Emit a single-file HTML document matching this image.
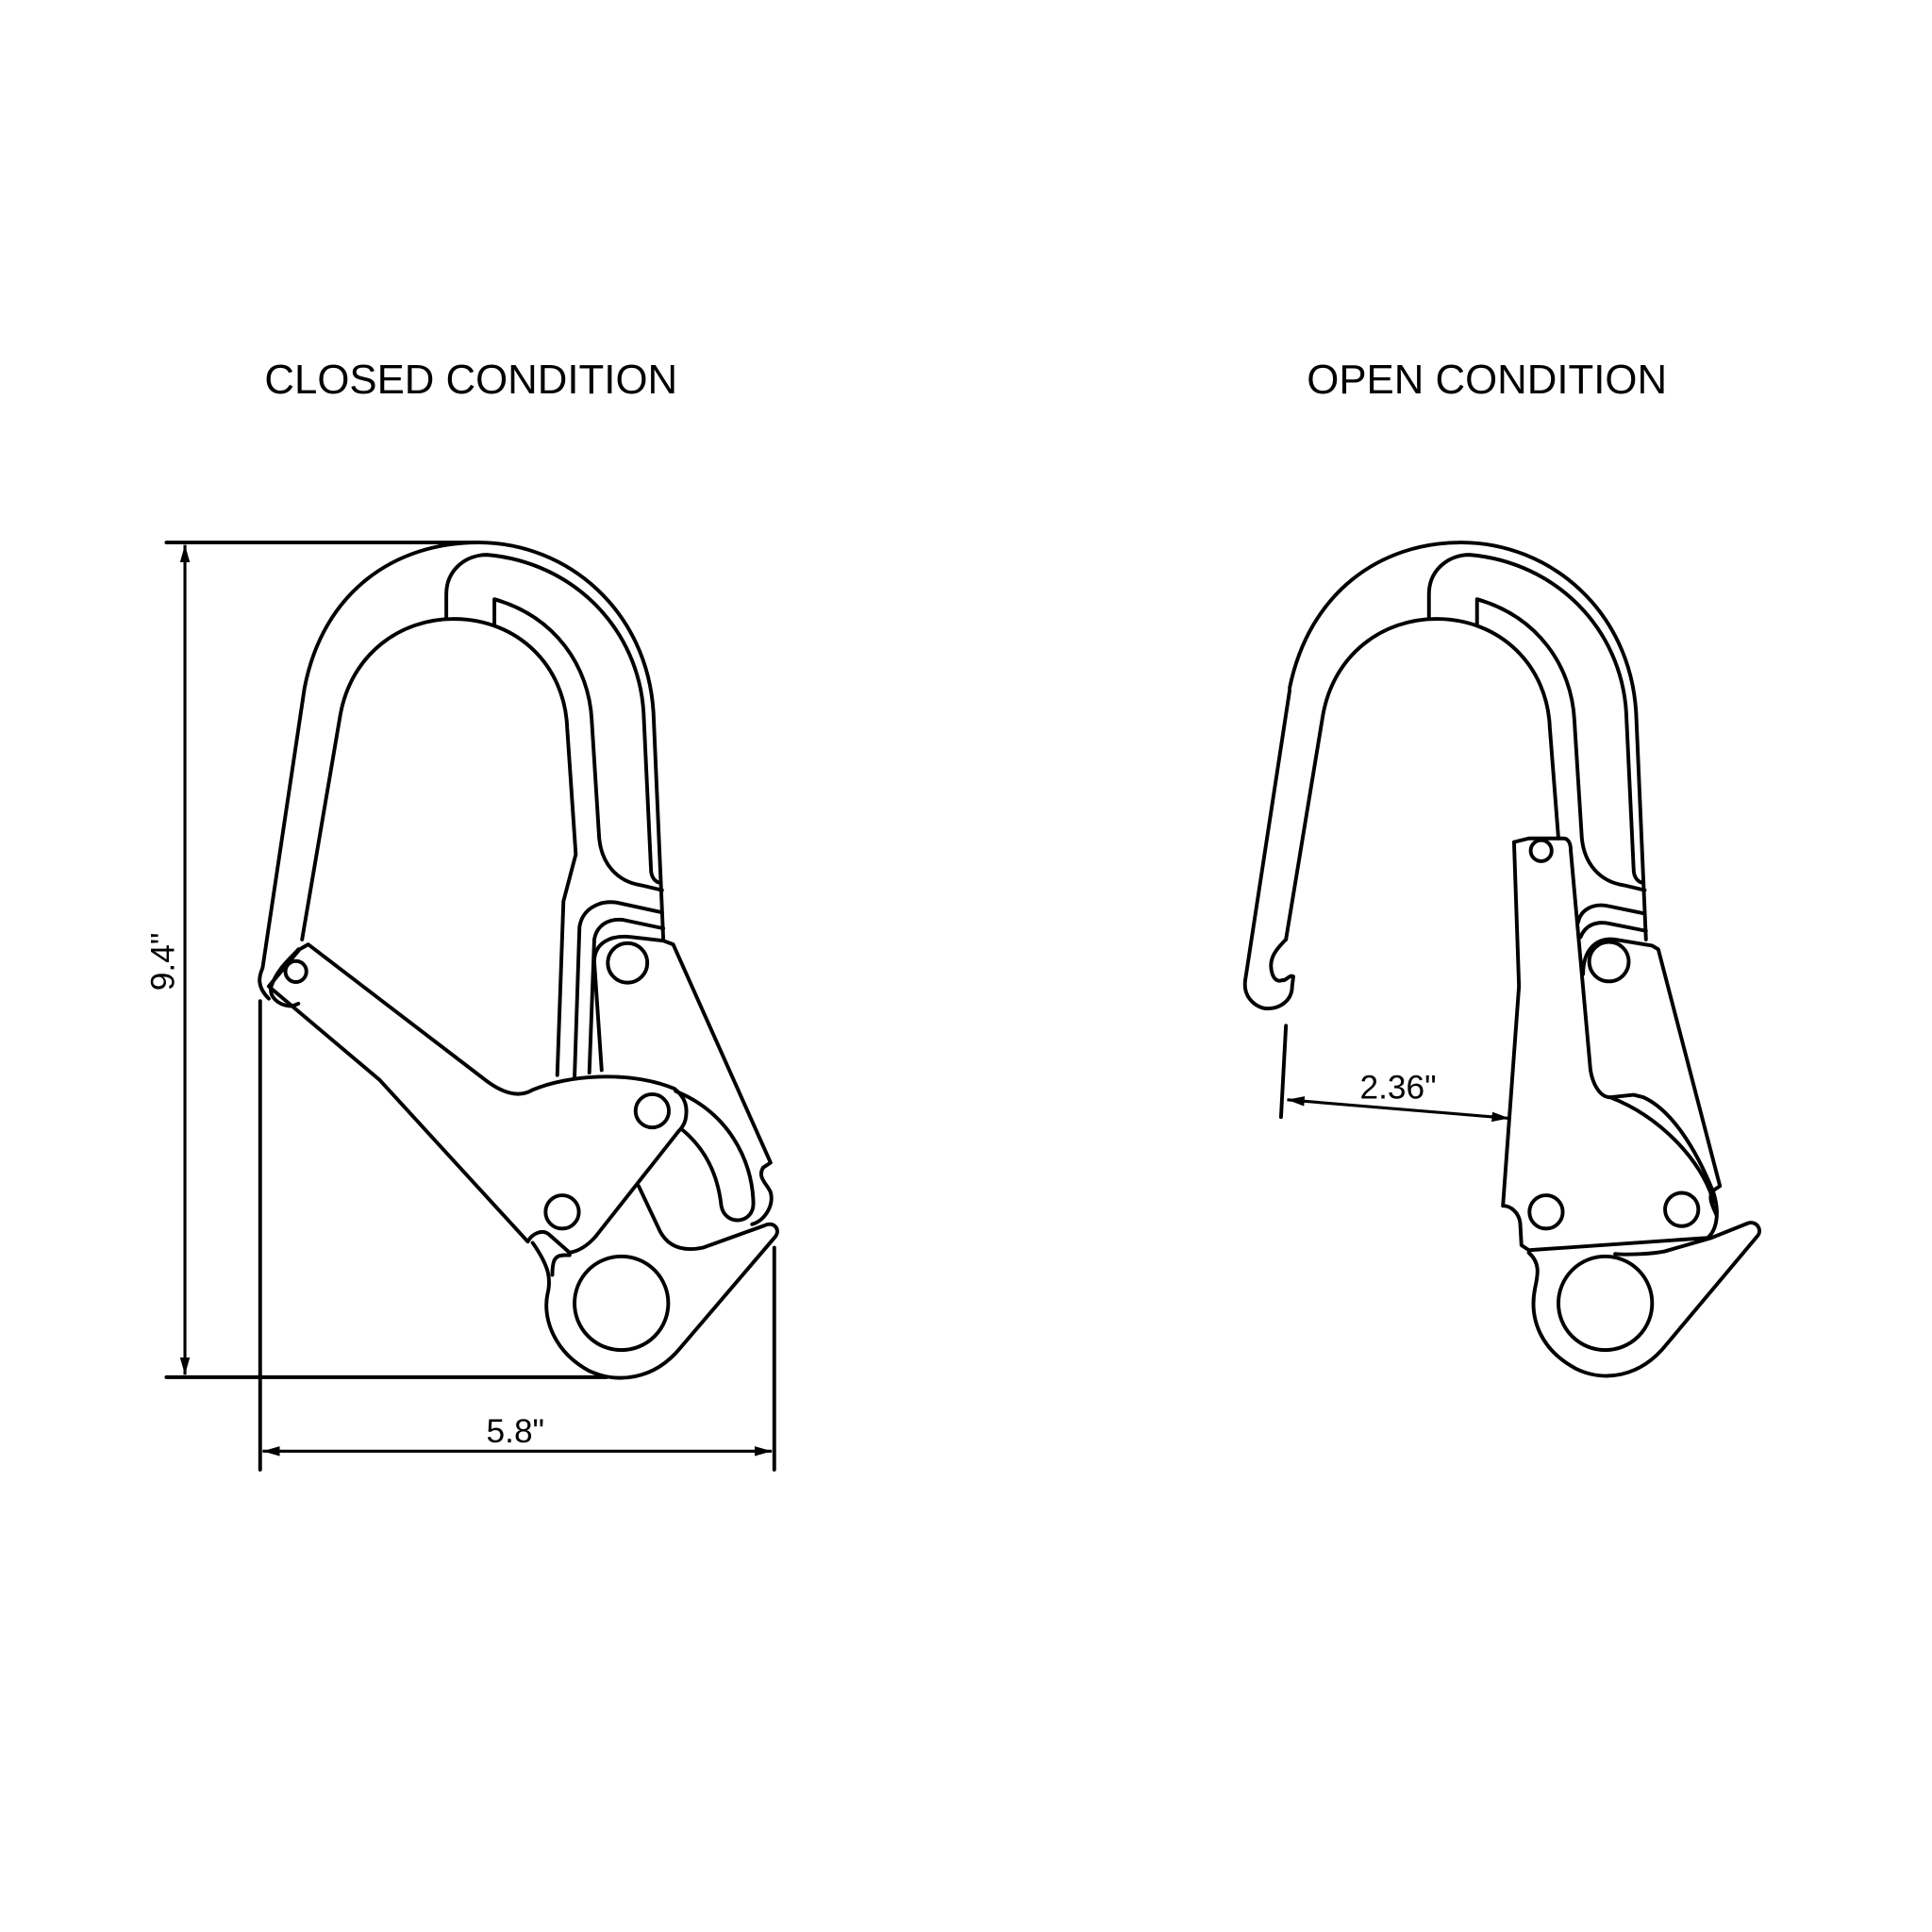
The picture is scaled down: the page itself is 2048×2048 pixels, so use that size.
<!DOCTYPE html>
<html><head><meta charset="utf-8"><style>
html,body{margin:0;padding:0;background:#fff;}
svg{display:block;}
text{font-family:"Liberation Sans",Arial,sans-serif;fill:#000;}
</style></head><body>
<svg width="2048" height="2048" viewBox="0 0 1567 1567" xmlns="http://www.w3.org/2000/svg">
<defs>
<marker id="ar" viewBox="0 0 10 10" refX="10" refY="5" markerWidth="14" markerHeight="8" markerUnits="userSpaceOnUse" orient="auto-start-reverse" preserveAspectRatio="none"><path d="M0,0 L10,5 L0,10 z" fill="#000"/></marker>
</defs>
<text x="382" y="319" font-size="33.5" text-anchor="middle">CLOSED CONDITION</text>
<text x="1206" y="319" font-size="33.5" text-anchor="middle">OPEN CONDITION</text>

<g fill="none" stroke="#000" stroke-width="3" stroke-linejoin="round" stroke-linecap="round">
<path d="M218,810 C208,800 210,792 213,785 L247,558 C262,480 320,440 388,440 C460,440 525,495 530,578 L538,762"/>
<path d="M362,500 L362,482 C362,462 378,450 395,450 C465,456 518,510 522,578 L528,705 C528,712 532,716 536,716"/>
<path d="M245,762 L276,580 C285,530 325,502 368,502 C420,502 458,540 460,590 L467,693 L457,731 L452,872"/>
<path d="M401,507 L401,486 C450,500 478,540 480,585 L486,680 C488,700 500,715 520,718 L537,722"/>
<path d="M466,874 L470,752 C472,738 485,730 500,732 L537,740"/>
<path d="M478,870 L482,762 C484,750 494,745 505,746 L538,753"/>
<path d="M488,868 L482,780 C482,765 495,758 512,760 L538,763 L546,766 L625,943 L619,947 C614,955 622,960 625,967 C628,978 620,990 610,993"/>
<circle cx="509" cy="781" r="16"/>
<path d="M218,800 L243,770 L250,766 L395,877 C410,888 422,890 432,884 C460,872 510,868 547,883 C556,890 558,898 556,908 C555,912 553,915 550,918 L483,1003 C475,1012 468,1015 462,1016 L445,1001 C440,997 432,1000 428,1007 L308,876 Z"/>
<path d="M242,770 C238,775 225,785 220,800 C218,808 225,815 235,816 C238,816 240,815 242,814"/>
<circle cx="240" cy="788" r="8.5"/>
<circle cx="529" cy="901" r="13.5"/>
<circle cx="456" cy="983" r="13.5"/>
<path d="M548,885 C590,902 610,940 611,975 C612,993 588,995 585,978 C582,950 570,930 553,916"/>
<path d="M518,962 L535,998 C542,1012 555,1015 570,1012 L620,994 C628,990 634,998 628,1004 L552,1093 C530,1120 500,1122 478,1112 C450,1097 440,1070 444,1050 C447,1038 446,1028 432,1008"/>
<path d="M448,1034 C448,1022 450,1018 458,1018 L462,1018"/>
<circle cx="504" cy="1057" r="38"/>
<path d="M135,440 L388,440"/>
<path d="M135,1117 L492,1117"/>
<path d="M211,812 L211,1192"/>
<path d="M628,1012 L628,1192"/>
</g>
<g stroke="#000" stroke-width="2.4" fill="none">
<line x1="150" y1="442" x2="150" y2="1115" marker-start="url(#ar)" marker-end="url(#ar)"/>
<line x1="213" y1="1177" x2="626" y2="1177" marker-start="url(#ar)" marker-end="url(#ar)"/>
<line x1="1044" y1="892" x2="1224" y2="907" marker-start="url(#ar)" marker-end="url(#ar)"/>
</g>
<text x="418" y="1170" font-size="27" text-anchor="middle">5.8"</text>
<text transform="translate(141,780) rotate(-90)" font-size="27" text-anchor="middle">9.4"</text>
<text x="1134" y="891" font-size="27" text-anchor="middle">2.36"</text>

<g fill="none" stroke="#000" stroke-width="3" stroke-linejoin="round" stroke-linecap="round">
<path d="M1046,560 L1010,795 C1008,810 1020,818 1028,818 C1040,818 1048,810 1048,800 L1049,792 C1046,790 1043,796 1040,795"/>
<path d="M1046,558 C1062,480 1120,440 1185,440 C1257,440 1322,495 1327,578 L1335,762"/>
<path d="M1159,500 L1159,482 C1159,462 1175,450 1192,450 C1262,456 1315,510 1319,578 L1325,705 C1325,712 1329,716 1333,716"/>
<path d="M1043,762 L1073,580 C1082,530 1122,502 1165,502 C1217,502 1255,540 1257,590 L1264,680"/>
<path d="M1198,507 L1198,486 C1247,500 1275,540 1277,585 L1283,680 C1285,700 1297,715 1317,718 L1334,722"/>
<path d="M1043,762 C1035,770 1028,778 1032,790 C1034,796 1038,796 1040,795"/>
<path d="M1280,748 C1282,738 1292,732 1305,735 L1334,741"/>
<path d="M1282,760 C1286,750 1295,747 1305,749 L1335,755"/>
<path d="M1284,790 C1284,770 1295,760 1310,762 L1340,767 L1345,770 L1395,962 L1389,966 C1385,972 1390,980 1392,985"/>
<circle cx="1305" cy="780" r="16"/>
<path d="M1228,683 L1240,680 L1268,680 C1272,680 1274,684 1274,690 L1290,868 C1292,880 1298,890 1306,890 L1325,888 L1333,890 C1355,900 1375,930 1390,968 C1395,985 1392,998 1385,1004 L1240,1014 L1234,1010 L1233,992 C1232,984 1226,978 1219,978 L1232,800 Z"/>
<path d="M1306,890 C1345,905 1380,940 1390,975"/>
<circle cx="1250" cy="690" r="8.5"/>
<circle cx="1254" cy="983" r="13.5"/>
<circle cx="1364" cy="981" r="13.5"/>
<path d="M1310,1017 C1320,1018 1340,1017 1350,1015 L1388,1004 L1418,992 C1425,990 1430,998 1425,1003 L1352,1090 C1330,1118 1300,1121 1278,1110 C1250,1095 1240,1070 1245,1045 C1247,1035 1250,1025 1240,1016"/>
<circle cx="1302" cy="1057" r="38"/>
<path d="M1043,832 L1039,906"/>
</g>
</svg>
</body></html>
